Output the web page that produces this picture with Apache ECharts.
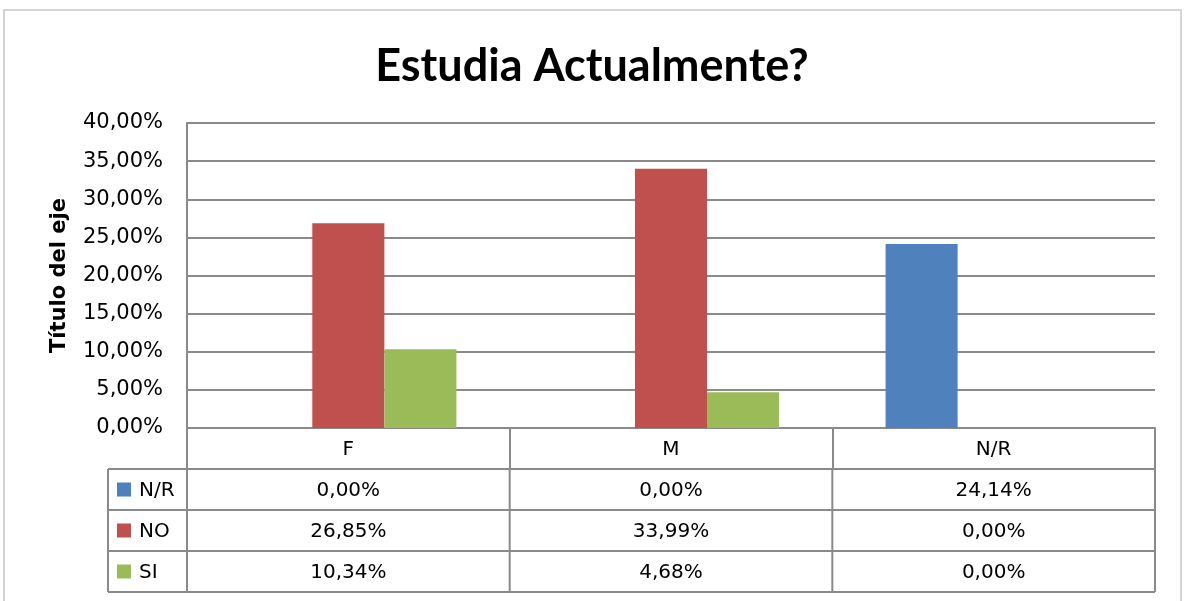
<!DOCTYPE html>
<html>
<head>
<meta charset="utf-8">
<title>Estudia Actualmente?</title>
<script src="https://cdn.jsdelivr.net/npm/echarts@6/dist/echarts.min.js"></script>
<style>
  html, body { margin: 0; padding: 0; background: #fff; }
  #chart { width: 1184px; height: 601px; }
</style>
</head>
<body>
<div id="chart"></div>
<script>
// datos del grafico
var categories = ['F', 'M', 'N/R'];
var seriesNames = ['N/R', 'NO', 'SI'];
var nrValues = [0, 0, 24.14];
var noValues = [26.85, 33.99, 0];
var siValues = [10.34, 4.68, 0];
var seriesColors = ['#4f81bd', '#c0504d', '#9bbb59'];

var TITLE_FONT = 'Lato';
var FONT = 'DejaVu Sans';
var LINE = '#8a8a8a';

function pct(v) {
    return v.toFixed(2).replace('.', ',') + '%';
}

var myChart = echarts.init(document.getElementById('chart'));

var allValues = [nrValues, noValues, siValues];

var option = {
    backgroundColor: '#fff',
    animation: false,
    title: {
        text: 'Estudia Actualmente?',
        left: 'center',
        top: 39,
        textStyle: { fontFamily: TITLE_FONT, fontWeight: 'bold', fontSize: 45, color: '#000' }
    },
    grid: { left: 187, right: 29, top: 123, bottom: 173 },
    xAxis: {
        type: 'category',
        data: categories,
        axisLine: { show: true, lineStyle: { color: LINE, width: 2 } },
        axisTick: { show: true, length: 41, interval: 0, lineStyle: { color: LINE, width: 2 } },
        axisLabel: { margin: 12, fontFamily: FONT, fontSize: 20, color: '#000' }
    },
    yAxis: {
        type: 'value',
        min: 0,
        max: 40,
        interval: 5,
        name: 'Título del eje',
        nameLocation: 'middle',
        nameGap: 117,
        nameTextStyle: { fontFamily: FONT, fontWeight: 'bold', fontSize: 21, color: '#000' },
        axisLine: { show: true, lineStyle: { color: LINE, width: 2 } },
        axisTick: { show: false },
        axisLabel: { margin: 24, fontFamily: FONT, fontSize: 21, color: '#000', formatter: pct },
        splitLine: { lineStyle: { color: LINE, width: 2 } }
    },
    series: seriesNames.map(function (name, i) {
        return {
            name: name,
            type: 'bar',
            data: allValues[i],
            barGap: '0%',
            barCategoryGap: '33%',
            itemStyle: { color: seriesColors[i] }
        };
    })
};

myChart.setOption(option);

// tabla de datos debajo del eje, a partir de la escala de categorias
function buildTable() {
    var rowH = 41;
    var legendLeft = 108;
    var y0 = myChart.convertToPixel({ yAxisIndex: 0 }, 0) + rowH;
    var c0 = myChart.convertToPixel({ xAxisIndex: 0 }, 0);
    var c1 = myChart.convertToPixel({ xAxisIndex: 0 }, 1);
    var band = c1 - c0;
    var gridLeft = c0 - band / 2;
    var gridRight = gridLeft + band * categories.length;
    var els = [];
    var stroke = { stroke: LINE, lineWidth: 2 };

    // contorno del area del grafico
    els.push({ type: 'rect', shape: { x: 4, y: 10, width: 1177, height: 620 },
        style: { fill: null, stroke: '#d4d4d4', lineWidth: 2 }, silent: true });

    for (var r = 0; r <= seriesNames.length; r++) {
        var y = y0 + r * rowH;
        els.push({ type: 'line', shape: { x1: legendLeft, y1: y, x2: gridRight, y2: y }, style: stroke });
    }
    var yEnd = y0 + seriesNames.length * rowH;
    els.push({ type: 'line', shape: { x1: legendLeft, y1: y0, x2: legendLeft, y2: yEnd }, style: stroke });
    for (var c = 0; c <= categories.length; c++) {
        var x = gridLeft + c * band;
        els.push({ type: 'line', shape: { x1: x, y1: y0, x2: x, y2: yEnd }, style: stroke });
    }

    seriesNames.forEach(function (name, i) {
        var cy = y0 + i * rowH + rowH / 2;
        els.push({ type: 'rect', shape: { x: legendLeft + 9, y: cy - 7, width: 14, height: 14 },
            style: { fill: seriesColors[i] } });
        els.push({ type: 'text', x: legendLeft + 31, y: cy + 1,
            style: { text: name, fontFamily: FONT, fontSize: 20, fill: '#000', verticalAlign: 'middle', align: 'left' } });
        allValues[i].forEach(function (v, j) {
            var cx = myChart.convertToPixel({ xAxisIndex: 0 }, j);
            els.push({ type: 'text', x: cx, y: cy + 1,
                style: { text: pct(v), fontFamily: FONT, fontSize: 20, fill: '#000', align: 'center', verticalAlign: 'middle' } });
        });
    });

    myChart.setOption({ graphic: { elements: els } });
}

buildTable();
</script>
</body>
</html>
